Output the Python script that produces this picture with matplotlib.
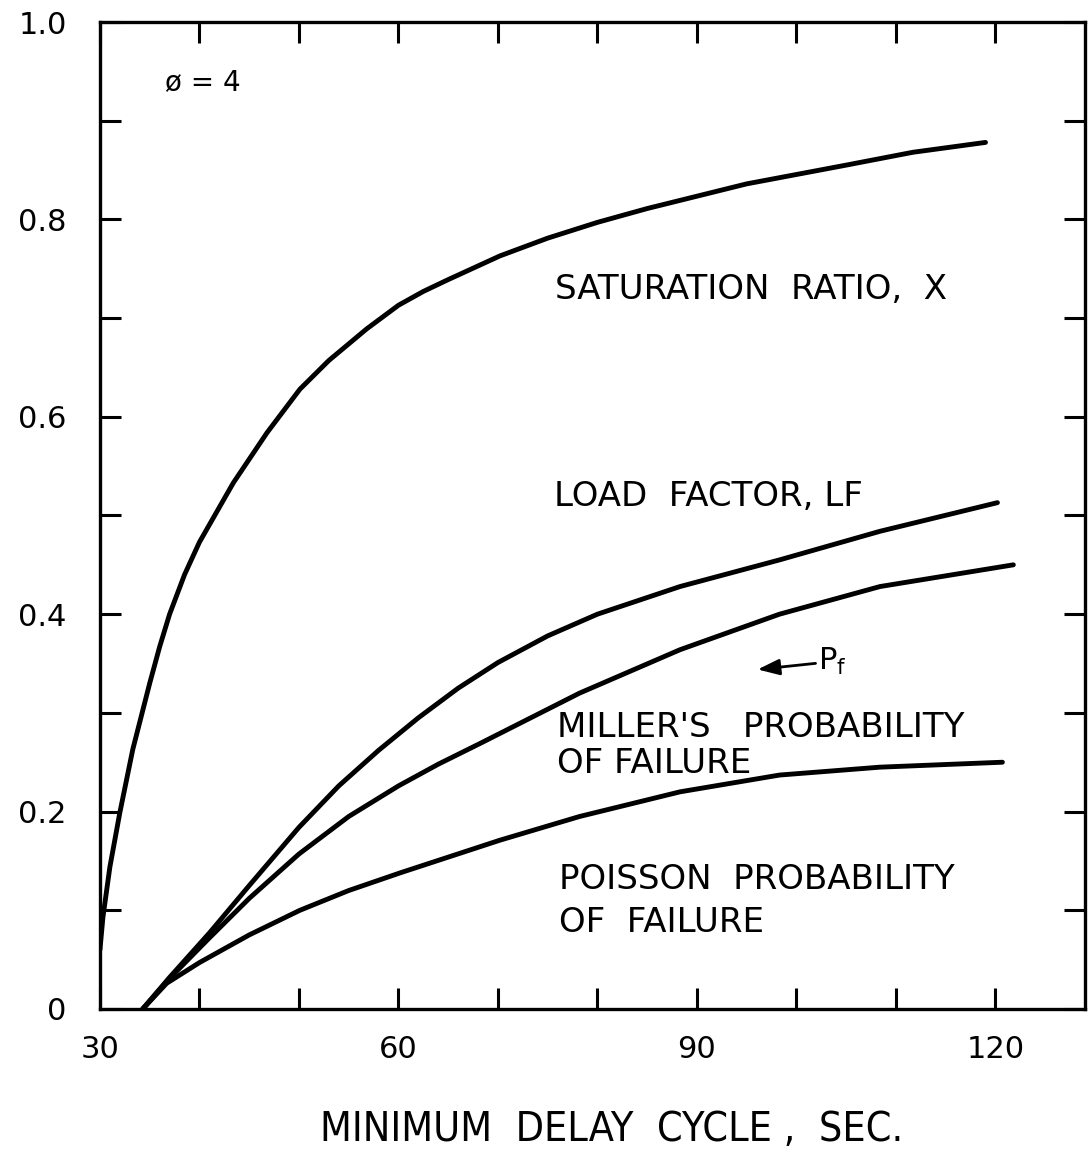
# =========================================================
# plot.py - SATURATION / LOAD FACTOR / PROBABILITY OF FAILURE
# =========================================================

import matplotlib
matplotlib.use("Agg")
import matplotlib.pyplot as plt


# =========================================================
# DATA
# =========================================================
sat_x = [30.0, 30.3, 31.0, 32.0, 33.3, 35.0, 36.0, 37.0, 38.5, 40.0, 43.4, 46.8, 50.1,
         53.0, 56.8, 60.0, 62.5, 65.0, 70.2, 75.0, 80.0, 85.0, 95.0, 105.0, 111.7, 119.0]
sat_y = [0.060, 0.093, 0.144, 0.199, 0.263, 0.330, 0.367, 0.400, 0.440, 0.473, 0.533, 0.584, 0.628,
         0.657, 0.689, 0.713, 0.727, 0.739, 0.763, 0.781, 0.797, 0.811, 0.836, 0.855, 0.868, 0.878]

lf_x = [34.3, 37.0, 41.0, 45.0, 50.0, 54.0, 58.0, 62.0, 66.0, 70.0, 75.0, 80.0,
        88.3, 98.3, 108.4, 120.2]
lf_y = [0.000, 0.032, 0.077, 0.125, 0.184, 0.226, 0.262, 0.295, 0.325, 0.351, 0.378, 0.400,
        0.428, 0.455, 0.484, 0.513]

pf_x = [34.3, 37.0, 41.0, 45.0, 50.0, 55.0, 60.0, 64.0, 68.2, 78.2, 88.3, 98.3, 108.4, 121.8]
pf_y = [0.000, 0.031, 0.072, 0.112, 0.157, 0.195, 0.226, 0.248, 0.269, 0.320, 0.364, 0.400, 0.428, 0.450]

poisson_x = [34.3, 36.7, 40.0, 45.0, 50.1, 55.0, 60.2, 70.2, 78.2, 88.3, 98.3, 108.4, 120.7]
poisson_y = [0.000, 0.026, 0.047, 0.075, 0.100, 0.120, 0.138, 0.171, 0.195, 0.220, 0.237, 0.245, 0.250]

x_major = [30, 60, 90, 120]
x_minor = [40, 50, 70, 80, 100, 110]
y_major = [0, 0.2, 0.4, 0.6, 0.8, 1.0]
y_major_labels = ["0", "0.2", "0.4", "0.6", "0.8", "1.0"]
y_minor = [0.1, 0.3, 0.5, 0.7, 0.9]


# =========================================================
# FIGURE
# =========================================================
plt.rcParams["font.family"] = ["DejaVu Sans"]

fig = plt.figure(figsize=(10.9, 11.58), dpi=100)
ax = fig.add_axes([0.0917, 0.1287, 0.9037, 0.8523])

line_kw = dict(color="black", lw=3.5, solid_capstyle="round", solid_joinstyle="round")
ax.plot(sat_x, sat_y, **line_kw)
ax.plot(lf_x, lf_y, **line_kw)
ax.plot(pf_x, pf_y, **line_kw)
ax.plot(poisson_x, poisson_y, **line_kw)

ax.set_xlim(30, 129)
ax.set_ylim(0, 1.0)

# ticks: inward on all four sides
ax.set_xticks(x_major)
ax.set_xticks(x_minor, minor=True)
ax.set_yticks(y_major)
ax.set_yticklabels(y_major_labels)
ax.set_yticks(y_minor, minor=True)
ax.tick_params(which="both", direction="in", length=15, width=2.2,
               top=True, right=True, color="black")
ax.tick_params(axis="x", which="major", labelsize=22, pad=19)
ax.tick_params(axis="y", which="major", labelsize=22, pad=24)

for spine in ax.spines.values():
    spine.set_linewidth(2.4)


# =========================================================
# LABELS
# =========================================================
lab_kw = dict(fontsize=24.5, ha="left", va="center")

ax.text(36.5, 0.939, "ø = 4", fontsize=20, ha="left", va="center")
ax.text(75.7, 0.729, "SATURATION  RATIO,  X", **lab_kw)
ax.text(75.6, 0.519, "LOAD  FACTOR, LF", **lab_kw)
ax.text(75.9, 0.285, "MILLER'S   PROBABILITY", **lab_kw)
ax.text(75.9, 0.249, "OF FAILURE", **lab_kw)
ax.text(76.1, 0.131, "POISSON  PROBABILITY", **lab_kw)
ax.text(76.1, 0.088, "OF  FAILURE", **lab_kw)

ax.annotate(r"$\mathregular{P_f}$", xy=(96.1, 0.344), xytext=(102.2, 0.352),
            fontsize=22, ha="left", va="center",
            arrowprops=dict(arrowstyle="-|>,head_length=0.6,head_width=0.22",
                            color="black", lw=2, shrinkA=0, shrinkB=0))

fig.text(0.561, 0.0242, "MINIMUM  DELAY  CYCLE ,  SEC.", fontsize=29.5,
         ha="center", va="center", fontstretch="condensed")

fig.savefig("out.png", dpi=100)
